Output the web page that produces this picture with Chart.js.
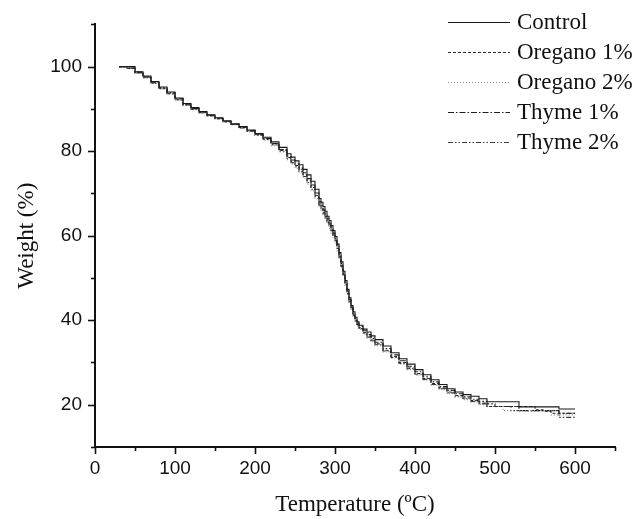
<!DOCTYPE html>
<html>
<head>
<meta charset="utf-8">
<script src="https://cdn.jsdelivr.net/npm/chart.js@4.4.1/dist/chart.umd.min.js"></script>
<style>
  html, body { margin: 0; padding: 0; background: #fff; }
  #wrap { width: 641px; height: 519px; position: relative; }
</style>
</head>
<body>
<div id="wrap"><canvas id="c" width="641" height="519"></canvas></div>
<script>
const temperature = [30,40,50,60,70,80,90,100,110,120,130,140,150,160,170,180,190,200,210,220,230,240,
  245,250,255,260,265,270,275,280,
  282.5,285,287.5,290,292.5,295,297.5,300,302.5,305,307.5,310,312.5,315,317.5,320,322.5,325,327.5,330,
  335,340,345,350,
  360,370,380,390,400,410,420,430,440,450,460,470,480,490,500,510,520,530,540,550,560,570,580,590,600];

const control = [100,100,98.8,97.8,96.5,95.2,94.0,92.6,91.3,90.3,89.4,88.6,87.9,87.2,86.5,85.8,85.0,84.2,83.3,82.2,80.9,79.4,
  78.6,77.7,76.8,75.7,74.4,72.9,71.0,68.8,
  67.9,66.9,65.8,64.6,63.6,62.4,61.2,59.8,58.0,56.0,53.8,51.6,49.4,47.3,45.3,43.5,42.0,40.7,39.6,38.8,
  37.9,37.2,36.3,35.4,
  33.9,32.3,30.9,29.6,28.3,27.1,25.9,24.8,23.8,23.0,22.4,22.0,21.4,20.7,20.7,20.7,20.7,19.5,19.5,19.5,19.5,19.5,19.0,19.0,19.0];

const oregano1 = [100,99.6,98.6,97.5,96.2,94.9,93.7,92.3,91.0,90.0,89.2,88.4,87.7,87.0,86.3,85.6,84.8,83.9,82.9,81.7,80.2,78.5,
  77.6,76.6,75.6,74.4,73.0,71.4,69.5,67.4,
  66.5,65.5,64.5,63.4,62.4,61.2,60.0,58.8,57.0,55.0,52.9,50.8,48.6,46.5,44.6,42.8,41.3,40.0,39.0,38.2,
  37.1,36.2,35.3,34.4,
  32.9,31.4,30.0,28.7,27.4,26.2,25.0,24.0,23.0,22.2,21.6,21.0,20.4,19.6,19.6,19.6,19.6,19.6,19.6,18.8,18.5,18.0,18.0,18.0,18.0];

const oregano2 = [100,99.5,98.4,97.3,96.0,94.7,93.4,92.0,90.8,89.8,89.0,88.3,87.6,86.9,86.2,85.4,84.6,83.7,82.6,81.3,79.8,78.0,
  77.0,76.0,74.9,73.6,72.2,70.6,68.8,66.8,
  65.8,64.8,63.8,62.8,61.7,60.6,59.4,58.2,56.4,54.5,52.5,50.4,48.2,46.1,44.2,42.4,40.9,39.6,38.6,37.8,
  36.7,35.8,34.9,34.0,
  32.5,31.0,29.6,28.3,27.0,25.8,24.6,23.6,22.6,21.8,21.2,20.6,20.0,19.6,19.6,18.6,18.6,18.6,18.6,18.6,18.6,17.6,17.6,17.6,17.6];

const thyme1 = [100,99.7,98.7,97.6,96.3,95.0,93.8,92.4,91.1,90.1,89.3,88.5,87.8,87.1,86.4,85.7,84.9,84.0,83.0,81.8,80.4,78.8,
  77.9,77.0,76.0,74.9,73.5,72.0,70.1,68.0,
  67.1,66.1,65.1,64.0,62.9,61.8,60.6,59.3,57.5,55.5,53.4,51.2,49.0,46.9,44.9,43.1,41.6,40.3,39.3,38.5,
  37.5,36.6,35.7,34.8,
  33.3,31.8,30.4,29.1,27.8,26.6,25.4,24.3,23.4,22.6,21.9,21.3,20.8,20.2,19.6,19.6,19.6,18.6,18.6,18.6,18.6,18.6,18.0,18.0,18.0];

const thyme2 = [100,99.6,98.5,97.4,96.1,94.8,93.5,92.1,90.9,89.9,89.1,88.4,87.7,87.0,86.3,85.5,84.7,83.8,82.8,81.5,80.0,78.3,
  77.3,76.3,75.2,74.0,72.6,71.0,69.2,67.2,
  66.2,65.2,64.2,63.2,62.1,61.0,59.8,58.6,56.8,54.8,52.7,50.6,48.4,46.3,44.4,42.6,41.1,39.8,38.8,38.0,
  36.9,36.0,35.1,34.2,
  32.7,31.2,29.8,28.5,27.2,26.0,24.8,23.8,22.8,22.0,21.4,20.8,20.2,19.6,19.6,19.6,18.6,18.6,18.6,18.6,18.6,18.6,17.0,17.0,17.0];

const seriesNames = ["Control", "Oregano 1%", "Oregano 2%", "Thyme 1%", "Thyme 2%"];
const yTickLabels = [20, 40, 60, 80, 100];
const xTickLabels = [0, 100, 200, 300, 400, 500, 600];

const seriesValues = [control, oregano1, oregano2, thyme1, thyme2];
const styles = [
  { color: '#1a1a1a', dash: [] },
  { color: '#2a2a2a', dash: [3, 2] },
  { color: '#8a8a8a', dash: [1, 2] },
  { color: '#1f1f1f', dash: [6, 2, 1.5, 2] },
  { color: '#3a3a3a', dash: [5, 2, 1.5, 2, 1.5, 2] }
];

const datasets = seriesValues.map((vals, i) => ({
  label: seriesNames[i],
  data: temperature.map((t, j) => ({ x: t, y: vals[j] })),
  borderColor: styles[i].color,
  borderDash: styles[i].dash,
  borderWidth: 1.1,
  pointRadius: 0,
  stepped: true,
  fill: false
}));

const tickPlugin = {
  id: 'ticksDraw',
  afterDraw(chart) {
    const ctx = chart.ctx;
    const xs = chart.scales.x, ys = chart.scales.y;
    ctx.save();
    ctx.strokeStyle = '#111';
    ctx.lineWidth = 1.6;
    for (let v = 10; v <= 110; v += 10) {
      const py = Math.round(ys.getPixelForValue(v)) + 0.5;
      const len = (v % 20 === 0) ? 7 : 4;
      ctx.beginPath();
      ctx.moveTo(xs.left - len, py);
      ctx.lineTo(xs.left, py);
      ctx.stroke();
    }
    for (let v = 0; v <= 650; v += 50) {
      const px = Math.round(xs.getPixelForValue(v)) + 0.5;
      const len = (v % 100 === 0) ? 7 : 4;
      ctx.beginPath();
      ctx.moveTo(px, ys.bottom);
      ctx.lineTo(px, ys.bottom + len);
      ctx.stroke();
    }
    // legend
    const lx0 = 448, lx1 = 510, tx = 517, y0 = 22, dy = 30;
    ctx.font = '23px "Liberation Serif", "Times New Roman", serif';
    ctx.textAlign = 'left';
    ctx.textBaseline = 'middle';
    chart.data.datasets.forEach((ds, i) => {
      const y = y0 + i * dy;
      ctx.beginPath();
      ctx.setLineDash(ds.borderDash || []);
      ctx.strokeStyle = ds.borderColor;
      ctx.lineWidth = 1.2;
      ctx.moveTo(lx0, y + 0.5);
      ctx.lineTo(lx1, y + 0.5);
      ctx.stroke();
      ctx.setLineDash([]);
      ctx.fillStyle = '#111';
      ctx.fillText(ds.label, tx, y + 1);
    });
    ctx.restore();
  }
};

new Chart(document.getElementById('c'), {
  type: 'line',
  data: { datasets },
  plugins: [tickPlugin],
  options: {
    responsive: false,
    animation: false,
    devicePixelRatio: 1,
    layout: { padding: { top: 24, right: 26, left: 0, bottom: 0 } },
    plugins: { legend: { display: false }, tooltip: { enabled: false } },
    scales: {
      x: {
        type: 'linear',
        min: 0, max: 650,
        grid: { display: false, drawTicks: false },
        border: { display: true, color: '#111', width: 2 },
        ticks: {
          stepSize: 50,
          padding: 10,
          color: '#111',
          font: { family: '"Liberation Sans", Arial, sans-serif', size: 19 },
          maxRotation: 0,
          autoSkip: false,
          callback: (v) => xTickLabels.includes(v) ? String(v) : ''
        },
        title: {
          display: true,
          text: 'Temperature (ºC)',
          color: '#111',
          font: { family: '"Liberation Serif", "Times New Roman", serif', size: 23 },
          padding: { top: 0, bottom: 0 }
        },
        afterFit: (s) => { s.height = 72; }
      },
      y: {
        type: 'linear',
        min: 10, max: 110,
        grid: { display: false, drawTicks: false },
        border: { display: true, color: '#111', width: 2 },
        ticks: {
          stepSize: 10,
          padding: 13,
          color: '#111',
          font: { family: '"Liberation Sans", Arial, sans-serif', size: 19 },
          autoSkip: false,
          callback: (v) => yTickLabels.includes(v) ? String(v) : ''
        },
        title: {
          display: true,
          text: 'Weight (%)',
          color: '#111',
          font: { family: '"Liberation Serif", "Times New Roman", serif', size: 23 },
          padding: { top: 13, bottom: 0 }
        },
        afterFit: (s) => { s.width = 95; }
      }
    }
  }
});
</script>
</body>
</html>
